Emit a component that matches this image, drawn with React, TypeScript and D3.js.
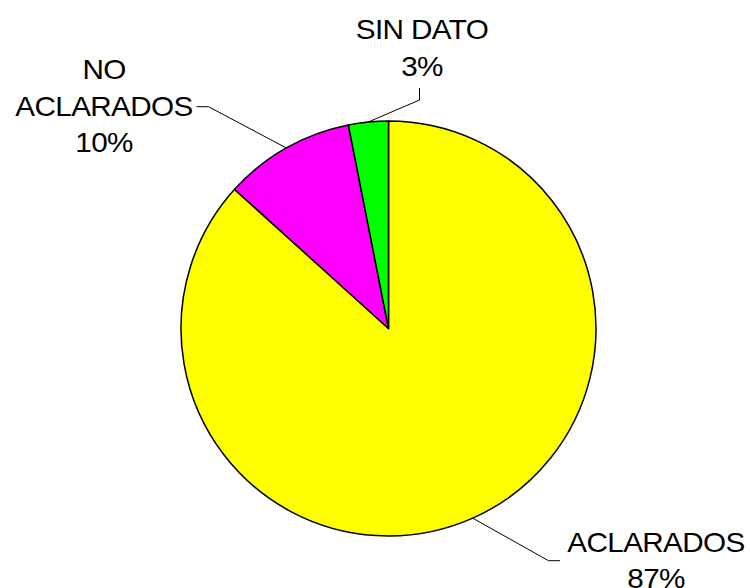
import React from "react";
import * as d3 from "d3";

const categories = ["ACLARADOS", "NO ACLARADOS", "SIN DATO"];
const values = [86.7, 10.2, 3.1];
const percentLabels = ["87%", "10%", "3%"];
const labelLines = [["ACLARADOS", "87%"], ["NO", "ACLARADOS", "10%"], ["SIN DATO", "3%"]];
const colors = ["#FFFF00", "#FF00FF", "#00FF00"];

const W = 750;
const H = 588;
const CX = 388.5;
const CY = 328.5;
const R = 207.5;
const FS = 28;
const LH = 36.7;
const SX = 1.06;

// label layout: text centre x, first baseline y, elbow point
const layout = [
  { tx: 656, ty: 551.7, elbow: [548.5, 560.7], end: [560, 560.7] },
  { tx: 104, ty: 79, elbow: [208.5, 106.7], end: [196.5, 106.7] },
  { tx: 422, ty: 39.3, elbow: [419.5, 100], end: [419.5, 88] },
];

export default function App() {
  const data = categories.map((c, i) => ({ c, v: values[i], i }));
  const pie = d3.pie<any>().sort(null).value((d) => d.v);
  const arcs = pie(data);
  const arc = d3.arc<any>().innerRadius(0).outerRadius(R);
  const edge = d3.arc<any>().innerRadius(R).outerRadius(R);

  return (
    <svg width={W} height={H} style={{ position: "absolute", left: 0, top: 0, background: "#fff" }}>
      <g transform={`translate(${CX},${CY})`}>
        {arcs.map((a, i) => (
          <path key={i} d={arc(a) as string} fill={colors[i]} stroke="#000" strokeWidth={1.5} strokeLinejoin="round" />
        ))}
      </g>
      {arcs.map((a, i) => {
        const mid = (a.startAngle + a.endAngle) / 2;
        const px = CX + R * Math.sin(mid);
        const py = CY - R * Math.cos(mid);
        const L = layout[i];
        return (
          <polyline
            key={"l" + i}
            points={`${px},${py} ${L.elbow[0]},${L.elbow[1]} ${L.end[0]},${L.end[1]}`}
            fill="none"
            stroke="#000"
            strokeWidth={1}
          />
        );
      })}
      {labelLines.map((lines, i) => {
        const L = layout[i];
        return (
          <g key={"t" + i}>
            {lines.map((t, j) => (
              <text
                key={j}
                transform={`translate(${L.tx},${L.ty + j * LH}) scale(${SX},1)`}
                textAnchor="middle"
                fontFamily="'Liberation Sans', Arial, sans-serif"
                fontSize={FS}
                letterSpacing={-0.6}
                fill="#000"
              >
                {t}
              </text>
            ))}
          </g>
        );
      })}
    </svg>
  );
}
